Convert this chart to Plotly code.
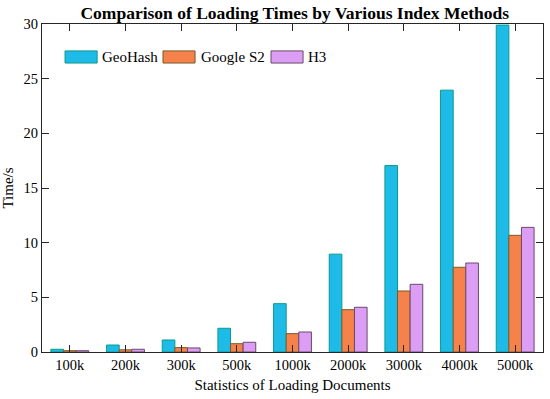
import plotly.graph_objects as go

categories = ["100k", "200k", "300k", "500k", "1000k", "2000k", "3000k", "4000k", "5000k"]
geohash = [0.25, 0.64, 1.1, 2.17, 4.42, 8.95, 17.05, 23.95, 29.9]
google_s2 = [0.12, 0.2, 0.4, 0.76, 1.68, 3.87, 5.58, 7.75, 10.67]
h3 = [0.12, 0.25, 0.37, 0.89, 1.83, 4.09, 6.19, 8.14, 11.4]
y_ticks = [0, 5, 10, 15, 20, 25, 30]
series_names = ["GeoHash", "Google S2", "H3"]
fill_colors = ["#1fbbe8", "#f5824a", "#dc9ef5"]
edge_colors = ["#0a9a8a", "#7a5a2a", "#6a4a6a"]

FONT = "Liberation Serif, Times New Roman, serif"
AX = "#262626"

fig = go.Figure()
for name, vals, fc, ec in zip(series_names, [geohash, google_s2, h3], fill_colors, edge_colors):
    fig.add_trace(go.Bar(name=name, x=categories, y=vals, showlegend=False,
                         marker=dict(color=fc, line=dict(color=ec, width=1))))

# custom legend with wide swatches (in axis-domain coordinates)
sw_x0 = [0.046, 0.2415, 0.4571]
sw_w = 0.064
txt_x = [0.1158, 0.3134, 0.527]
for i, name in enumerate(series_names):
    fig.add_shape(type="rect", xref="x domain", yref="y domain",
                  x0=sw_x0[i], x1=sw_x0[i] + sw_w, y0=0.881, y1=0.918,
                  fillcolor=fill_colors[i], line=dict(color=edge_colors[i], width=1))
    fig.add_annotation(xref="x domain", yref="y domain", x=txt_x[i], y=0.8994,
                       text=name, showarrow=False, xanchor="left", yanchor="middle",
                       font=dict(family=FONT, size=15, color="black"))

fig.update_layout(
    width=550, height=399,
    margin=dict(l=42, r=7, t=24, b=47),
    paper_bgcolor="white", plot_bgcolor="white",
    font=dict(family=FONT, size=14.5, color="black"),
    barmode="group", bargap=0.32, bargroupgap=0,
    title=dict(text="<b>Comparison of Loading Times by Various Index Methods</b>",
               x=0.536, xanchor="center", yref="container", y=0.968, yanchor="middle",
               font=dict(family=FONT, size=17.5, color="black")),
    showlegend=False,
)
fig.update_xaxes(
    type="category", showline=True, linecolor=AX, linewidth=1, mirror="ticks",
    ticks="inside", ticklen=7, tickcolor=AX, showgrid=False,
    title=dict(text="Statistics of Loading Documents", standoff=7, font=dict(size=15)),
    tickfont=dict(size=14.5),
)
fig.update_yaxes(
    range=[0, 30], tickvals=y_ticks, showline=True, linecolor=AX, linewidth=1, mirror="ticks",
    ticks="inside", ticklen=7, tickcolor=AX, showgrid=False, zeroline=False,
    title=dict(text="Time/s", standoff=6, font=dict(size=15)), tickfont=dict(size=14.5),
)

fig.write_html("out.html", config={"displayModeBar": False},
               post_script="document.body.style.margin='0';")
